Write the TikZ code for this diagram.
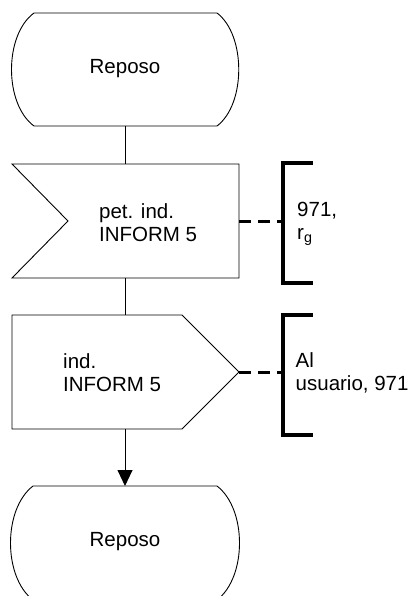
\documentclass[tikz,border=0pt]{standalone}
\usepackage{fontspec}
\setmainfont{Liberation Sans}
\usetikzlibrary{arrows.meta}
\begin{document}
\begin{tikzpicture}[x=1pt,y=-1pt,
  shapeline/.style={draw=black,line width=0.9pt,line join=miter},
  conn/.style={draw=black,line width=0.9pt},
  brk/.style={draw=black,line width=3.2pt},
  dashconn/.style={draw=black,line width=3pt,dash pattern=on 12pt off 7pt},
  lbl/.style={inner sep=0pt,anchor=west,align=left,font=\fontsize{20.5}{23}\selectfont},
  ctr/.style={inner sep=0pt,font=\fontsize{20.5}{23}\selectfont}]
\useasboundingbox (0,0) rectangle (409,596);
\clip (0,0) rectangle (409,596);
% top state
\draw[shapeline] (34,13) -- (217,13) .. controls (246,35) and (246,104) .. (217,126)
  -- (34,126) .. controls (4,104) and (4,35) .. cycle;
\node[ctr] (rep1) at (125,69) {Reposo};
\coordinate (s1b) at (125,126);
% input signal
\draw[shapeline] (12,164) -- (239,164) -- (239,278) -- (12,278) -- (68,221) -- cycle;
\node[lbl] (in1) at (99,223) {pet. ind.\\INFORM 5};
\coordinate (i1t) at (125,164);
\coordinate (i1b) at (125,278);
\coordinate (i1r) at (239,221);
% bracket 1
\coordinate (b1) at (283,221);
\draw[brk] (313,163) -- (283,163) -- (283,283) -- (313,283);
\node[lbl] (c1) at (297,224) {971,\\r\textsubscript{g}};
% output signal
\draw[shapeline] (12,315) -- (182,315) -- (239,372) -- (182,429) -- (12,429) -- cycle;
\node[lbl] (out1) at (63,373) {ind.\\INFORM 5};
\coordinate (o1t) at (125,315);
\coordinate (o1b) at (125,429);
\coordinate (o1r) at (239,372);
% bracket 2
\coordinate (b2) at (283,372);
\draw[brk] (313,315) -- (283,315) -- (283,435) -- (313,435);
\node[lbl] (c2) at (295.5,373) {Al\\usuario, 971};
% bottom state
\draw[shapeline] (33,486) -- (217,486) .. controls (247,509) and (247,577) .. (217,600)
  -- (33,600) .. controls (3,577) and (3,509) .. cycle;
\node[ctr] (rep2) at (125,542) {Reposo};
\coordinate (s2t) at (125,486);
% connectors
\draw[conn] (s1b) -- (i1t);
\draw[conn] (i1b) -- (o1t);
\draw[conn,-{Triangle[length=16pt,width=15pt]}] (o1b) -- (s2t);
\draw[dashconn] (i1r) -- (b1);
\draw[dashconn] (o1r) -- (b2);
\end{tikzpicture}
\end{document}
